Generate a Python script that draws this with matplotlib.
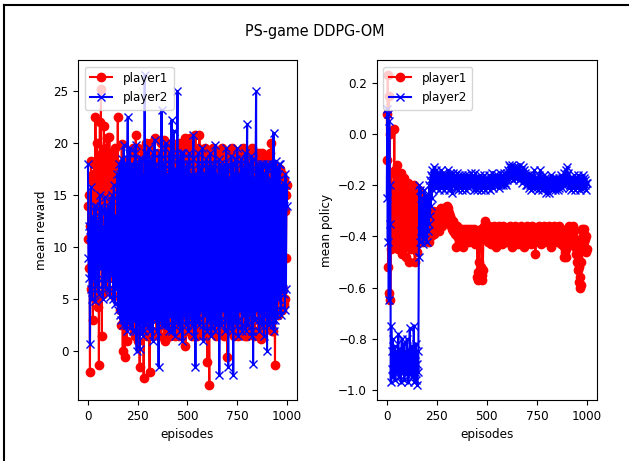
import numpy as np
import matplotlib
matplotlib.use('Agg')
import matplotlib.pyplot as plt
from matplotlib.lines import Line2D

# episodes sampled every 2.5 steps
episodes = np.arange(0, 1000.1, 2.5)

# mean reward, player1
reward_p1 = [
    10.8, 14.0, 8.0, 15.0, -2.0, 12.0, 18.3, 6.0, 16.5, 9.0, 3.0, 17.0, 11.0, 18.0, 7.5, 22.5, 13.0, 5.0, 20.0, 15.5,
    4.3, 18.5, -1.3, 16.0, 22.0, 9.5, 25.2, 14.0, 1.5, 19.0, 12.0, 5.5, 21.6, 16.5, 7.0, 19.5, 13.0, 6.0, 20.5, 11.0,
    6.0, 17.0, 14.5, 20.6, 9.0, 18.0, 8.5, 19.0, 12.0, 15.5, 18.7, 7.0, 5.3, 16.0, 14.0, 19.5, 9.0, 17.5, 6.5, 15.0,
    22.5, 10.0, 7.0, 18.0, 16.0, 4.0, 2.5, 14.0, 19.9, 8.0, 0.0, 15.0, 11.0, 3.0, -0.5, 17.0, 15.5, 6.0, 1.0, 12.0,
    16.5, 4.0, 5.0, 18.5, 12.0, 2.5, 3.0, 19.0, 18.2, 6.0, 9.0, 19.5, 2.0, 11.0, 17.5, 1.5, 20.8, 13.0, 6.0, 18.0,
    1.0, 19.5, 17.0, 5.0, -1.5, 12.0, 18.5, 3.5, 17.5, 14.0, 2.0, 8.0, -2.6, 19.0, 15.0, 3.0, 20.0, 10.0, 1.5, 17.5,
    4.0, 19.5, 16.0, 2.0, -2.0, 13.0, 20.0, 4.0, 18.8, 9.0, 1.5, 19.0, 5.0, 12.0, 20.5, 3.5, 17.8, 11.0, 2.0, 18.5,
    3.0, 19.0, 13.0, 1.5, 18.5, 9.0, 6.0, 20.0, 2.5, 12.0, 18.5, 4.0, 20.3, 10.0, 1.0, 19.0, 4.5, 13.0, 19.5, 2.0,
    17.2, 5.0, 1.5, 19.5, 1.5, 12.0, 18.0, 3.0, 20.0, 9.0, 2.0, 19.0, 3.5, 14.0, 18.5, 1.5, 16.0, 11.0, 2.5, 19.5,
    2.0, 17.5, 12.0, 1.5, 18.0, 10.0, 20.0, 16.0, 3.0, 13.0, 19.5, 5.0, 17.5, 9.0, 2.0, 20.5, 0.5, 12.0, 18.5, 4.5,
    20.0, 8.0, 2.0, 19.0, 4.0, 13.0, 20.5, 3.0, 18.0, 11.0, 1.5, 19.5, 2.5, 12.0, 18.0, 4.0, 20.8, 9.0, 2.0, 19.0,
    1.5, 17.0, 19.5, 5.0, 20.8, 10.0, 2.0, 18.5, 3.0, 12.0, 19.0, 4.0, 17.0, 9.0, 1.5, 19.5, 1.5, 13.0, 18.0, 5.0,
    -1.0, 19.0, 15.0, 2.0, -3.2, 12.0, 18.5, 5.0, 18.2, 10.0, 2.0, 19.5, 2.5, 13.0, 18.0, 3.5, 17.8, 9.0, 1.5, 19.0,
    4.0, 17.0, 19.0, 2.0, 16.5, 11.0, 18.5, 15.0, 1.8, 12.0, 19.5, 4.0, 18.0, 10.0, 1.5, 19.0, 3.0, 13.0, 18.5, 2.0,
    -0.5, 16.0, 19.0, 4.0, 17.5, 9.0, 2.0, 18.5, 2.0, 13.0, 19.5, 3.5, 18.5, 10.0, 1.5, 19.0, 3.5, 12.0, 18.0, 2.0,
    17.0, 9.0, 1.5, 19.0, 2.5, 13.0, 18.5, 4.0, 18.3, 11.0, 2.0, 19.5, 3.0, 12.0, 18.0, 1.5, 16.5, 10.0, 2.5, 19.0,
    1.5, 16.0, 19.0, 4.0, 18.0, 10.0, 2.0, 18.5, 3.5, 12.0, 19.5, 5.0, 17.5, 9.0, 1.5, 18.5, 2.0, 13.0, 19.0, 4.0,
    18.2, 10.0, 2.0, 19.0, 3.0, 12.0, 18.5, 5.0, 1.2, 13.0, 19.0, 4.0, 16.0, 9.0, 2.0, 18.5, 2.5, 12.0, 17.5, 5.0,
    17.5, 9.0, 2.5, 18.5, 3.0, 12.0, 19.0, 4.0, 20.0, 10.0, 2.0, 18.0, 2.0, 11.0, 17.5, 5.0, -1.3, 12.0, 9.0, 17.0,
    16.5, 8.0, 3.5, 17.0, 15.0, 5.0, 6.0, 17.5, 13.0, 8.0, 4.0, 17.0, 16.0, 6.0, 4.5, 16.5, 13.5, 5.0, 9.0, 15.0,
    16.0,
]

# mean reward, player2
reward_p2 = [
    18.0, 9.0, 7.0, 12.0, 0.7, 11.0, 15.8, 6.0, 5.0, 13.0, 12.5, 7.0, 10.0, 14.0, 4.8, 11.0, 14.0, 7.5, 6.5, 12.5,
    12.0, 6.0, 5.5, 13.0, 15.0, 8.0, 8.0, 14.0, 13.5, 7.0, 5.0, 12.0, 11.0, 6.5, 14.8, 9.0, 6.0, 13.5, 12.0, 7.0,
    7.5, 14.0, 13.0, 6.0, 5.2, 12.0, 14.5, 7.5, 8.0, 15.0, 11.0, 5.0, 16.0, 9.0, 4.5, 13.0, 13.0, 6.0, 6.0, 17.0,
    15.0, 4.0, 9.0, 18.0, 17.0, 3.5, 3.0, 16.0, 18.5, 5.0, 2.5, 17.0, 19.8, 3.0, 4.0, 18.0, 17.5, 2.5, 2.0, 16.0,
    22.5, 3.0, 3.0, 19.0, 19.5, 2.5, 5.5, 18.0, 18.0, 4.0, 2.0, 17.5, 16.5, 3.0, 4.0, 19.0, 19.8, 2.0, 0.0, 18.0,
    17.0, 2.5, 3.5, 18.5, 0.2, 16.0, 15.0, 3.0, 18.5, 4.0, 1.5, 17.0, 14.0, 2.0, 26.5, 5.0, 2.5, 19.0, 18.0, 3.0,
    4.5, 18.0, 19.5, 3.0, 2.0, 17.5, 16.0, 2.5, 18.5, 4.0, 1.0, 19.0, 15.0, 3.5, 20.3, 5.0, 3.0, 18.0, 17.0, 2.0,
    5.0, 17.5, -1.5, 16.0, 19.0, 3.0, 4.0, 18.5, 23.2, 2.5, 3.5, 17.0, 18.0, 4.0, 2.5, 19.5, 20.0, 3.0, 6.0, 17.0,
    16.0, 2.5, 2.0, 18.0, 19.0, 3.5, 4.0, 17.0, 22.2, 2.0, 3.0, 18.5, 21.2, 4.5, 1.5, 16.5, 17.5, 3.0, 5.0, 19.0,
    25.0, 3.5, 2.5, 17.0, 18.5, 2.0, 4.0, 19.0, 16.0, 3.0, 1.0, 18.0, 19.0, 4.0, 3.5, 17.5, 17.0, 2.5, 6.0, 18.0,
    15.5, 3.0, 2.0, 19.0, 18.0, 3.5, 4.5, 17.0, 16.5, 2.5, 3.0, 18.5, 20.8, 4.0, 1.5, 17.0, -1.5, 16.0, 17.0, 3.0,
    4.0, 18.0, 19.0, 3.0, 2.5, 17.5, 16.5, 4.0, 5.0, 18.0, 19.5, 2.5, 1.0, 17.0, 17.0, 3.5, 3.5, 18.0, 18.5, 2.0,
    2.0, 17.5, 16.0, 3.0, 4.5, 18.0, 19.0, 2.5, 1.5, 16.5, 17.5, 4.0, 3.0, 18.0, 15.5, 2.0, 19.8, 3.5, 2.5, 17.0,
    16.5, 3.0, 4.0, 18.5, -2.3, 16.0, 18.0, 2.5, 3.0, 17.5, 17.0, 4.0, 5.0, 18.0, 15.0, 3.0, 2.0, 17.0, 19.5, 3.5,
    3.5, 18.0, -1.5, 16.5, 16.5, 3.0, 2.5, 17.5, 18.8, 2.0, 4.0, 18.0, -2.3, 17.0, 17.0, 3.5, 3.0, 18.5, 15.5, 2.5,
    19.5, 3.0, 1.5, 17.0, 17.0, 4.0, 4.5, 18.0, 18.5, 2.5, 2.0, 17.5, 16.0, 3.5, 3.5, 18.0, 19.0, 2.0, 5.0, 17.0,
    21.8, 3.0, 2.5, 18.0, 17.5, 3.5, 4.0, 17.0, 18.8, 2.0, 1.5, 18.5, -1.2, 16.0, 16.5, 3.0, 3.0, 17.5, 25.0, 4.0,
    4.5, 18.0, 17.0, 3.0, 2.0, 17.5, 15.5, 4.0, 18.0, 2.5, 3.0, 18.0, 18.0, 3.5, 1.5, 17.0, 16.5, 4.0, 4.0, 18.0,
    0.0, 17.5, 18.0, 3.0, 2.5, 16.5, 16.5, 3.5, 4.0, 18.0, 17.5, 2.5, 3.0, 21.0, 2.0, 17.0, 15.5, 3.0, 18.3, 4.0,
    3.5, 17.5, 17.0, 5.0, 5.0, 18.0, 18.0, 4.0, 3.5, 16.0, 15.0, 6.0, 6.0, 16.2, 5.5, 14.0, 4.0, 17.0, 6.0, 16.0,
    14.0,
]

# mean policy, player1
policy_p1 = [
    0.08, -0.1, 0.23, -0.52, 0.15, -0.62, 0.0, -0.65, -0.45, -0.15, -0.35, -0.25, -0.4, -0.2, -0.3, 0.02, -0.42, -0.14, -0.33, -0.22,
    -0.4, -0.12, -0.3, -0.45, -0.18, -0.36, -0.25, -0.42, -0.15, -0.32, -0.47, -0.2, -0.38, -0.28, -0.44, -0.17, -0.35, -0.24, -0.48, -0.21,
    -0.3, -0.42, -0.19, -0.36, -0.5, -0.26, -0.4, -0.2, -0.33, -0.45, -0.23, -0.38, -0.3, -0.44, -0.2, -0.35, -0.5, -0.28, -0.4, -0.24,
    -0.36, -0.46, -0.26, -0.4, -0.33, -0.22, -0.42, -0.3, -0.38, -0.25, -0.4, -0.34, -0.28, -0.42, -0.32, -0.37, -0.27, -0.4, -0.33, -0.38,
    -0.3, -0.4, -0.34, -0.38, -0.31, -0.42, -0.35, -0.37, -0.32, -0.4, -0.34, -0.38, -0.3, -0.36, -0.33, -0.39, -0.31, -0.37, -0.34, -0.36,
    -0.32, -0.37, -0.3, -0.35, -0.33, -0.38, -0.31, -0.36, -0.29, -0.34, -0.31, -0.36, -0.3, -0.33, -0.29, -0.34, -0.31, -0.3, -0.33, -0.29,
    -0.28, -0.32, -0.3, -0.29, -0.33, -0.31, -0.34, -0.32, -0.36, -0.33, -0.35, -0.37, -0.34, -0.38, -0.36, -0.35, -0.39, -0.37, -0.44, -0.38,
    -0.36, -0.4, -0.37, -0.39, -0.38, -0.41, -0.37, -0.4, -0.38, -0.42, -0.39, -0.37, -0.4, -0.44, -0.38, -0.41, -0.39, -0.37, -0.4, -0.42,
    -0.38, -0.41, -0.37, -0.4, -0.39, -0.42, -0.38, -0.4, -0.37, -0.41, -0.39, -0.38, -0.42, -0.4, -0.37, -0.41, -0.39, -0.43, -0.38, -0.4,
    -0.39, -0.56, -0.54, -0.57, -0.5, -0.4, -0.38, -0.41, -0.37, -0.52, -0.55, -0.57, -0.53, -0.41, -0.38, -0.36, -0.4, -0.34, -0.38, -0.41,
    -0.39, -0.37, -0.42, -0.38, -0.4, -0.36, -0.41, -0.39, -0.43, -0.38, -0.4, -0.37, -0.42, -0.39, -0.36, -0.41, -0.38, -0.4, -0.44, -0.39,
    -0.37, -0.41, -0.38, -0.4, -0.36, -0.42, -0.39, -0.37, -0.41, -0.38, -0.4, -0.43, -0.39, -0.36, -0.41, -0.38, -0.4, -0.37, -0.42, -0.39,
    -0.38, -0.41, -0.37, -0.4, -0.42, -0.39, -0.36, -0.41, -0.38, -0.4, -0.44, -0.39, -0.37, -0.41, -0.38, -0.4, -0.36, -0.42, -0.39, -0.37,
    -0.41, -0.38, -0.4, -0.43, -0.39, -0.37, -0.41, -0.38, -0.4, -0.36, -0.42, -0.39, -0.37, -0.41, -0.38, -0.44, -0.4, -0.37, -0.41, -0.38,
    -0.4, -0.36, -0.42, -0.39, -0.37, -0.41, -0.38, -0.4, -0.43, -0.39, -0.36, -0.41, -0.38, -0.4, -0.37, -0.42, -0.39, -0.47, -0.41, -0.38,
    -0.4, -0.37, -0.41, -0.39, -0.36, -0.42, -0.38, -0.4, -0.37, -0.43, -0.39, -0.41, -0.38, -0.4, -0.36, -0.42, -0.39, -0.37, -0.41, -0.38,
    -0.4, -0.37, -0.42, -0.39, -0.36, -0.41, -0.38, -0.4, -0.44, -0.39, -0.37, -0.41, -0.38, -0.4, -0.36, -0.42, -0.39, -0.37, -0.41, -0.38,
    -0.4, -0.37, -0.42, -0.39, -0.36, -0.41, -0.38, -0.4, -0.37, -0.43, -0.39, -0.41, -0.38, -0.4, -0.48, -0.44, -0.46, -0.42, -0.48, -0.45,
    -0.41, -0.37, -0.43, -0.38, -0.4, -0.36, -0.42, -0.39, -0.41, -0.37, -0.43, -0.39, -0.4, -0.36, -0.42, -0.38, -0.41, -0.44, -0.42, -0.47,
    -0.45, -0.5, -0.48, -0.53, -0.52, -0.58, -0.6, -0.56, -0.59, -0.5, -0.42, -0.37, -0.4, -0.38, -0.42, -0.37, -0.41, -0.45, -0.4, -0.46,
    -0.45,
]

# mean policy, player2
policy_p2 = [
    -0.25, 0.1, -0.42, 0.08, -0.65, 0.05, -0.35, -0.2, -0.97, -0.75, -0.85, -0.92, -0.8, -0.95, -0.88, -0.9, -0.83, -0.96, -0.87, -0.92,
    -0.85, -0.93, -0.89, -0.78, -0.95, -0.87, -0.91, -0.84, -0.97, -0.88, -0.8, -0.93, -0.86, -0.9, -0.82, -0.96, -0.88, -0.92, -0.85, -0.94,
    -0.8, -0.93, -0.88, -0.97, -0.85, -0.9, -0.76, -0.94, -0.87, -0.92, -0.83, -0.95, -0.88, -0.91, -0.75, -0.97, -0.86, -0.93, -0.82, -0.96,
    -0.9, -0.98, -0.85, -0.93, -0.48, -0.2, -0.42, -0.22, -0.38, -0.25, -0.4, -0.3, -0.43, -0.27, -0.37, -0.22, -0.41, -0.3, -0.36, -0.24,
    -0.42, -0.28, -0.38, -0.24, -0.35, -0.2, -0.32, -0.18, -0.28, -0.16, -0.25, -0.14, -0.22, -0.17, -0.2, -0.13, -0.19, -0.16, -0.21, -0.14,
    -0.17, -0.2, -0.15, -0.19, -0.22, -0.16, -0.2, -0.18, -0.14, -0.21, -0.17, -0.19, -0.15, -0.2, -0.18, -0.22, -0.16, -0.19, -0.17, -0.21,
    -0.16, -0.19, -0.14, -0.2, -0.17, -0.22, -0.15, -0.18, -0.21, -0.16, -0.23, -0.17, -0.19, -0.15, -0.2, -0.18, -0.16, -0.21, -0.17, -0.19,
    -0.15, -0.2, -0.18, -0.22, -0.16, -0.19, -0.17, -0.21, -0.18, -0.2, -0.16, -0.22, -0.19, -0.17, -0.21, -0.18, -0.2, -0.16, -0.19, -0.22,
    -0.18, -0.2, -0.16, -0.19, -0.21, -0.17, -0.2, -0.18, -0.15, -0.19, -0.17, -0.2, -0.16, -0.18, -0.22, -0.19, -0.17, -0.15, -0.18, -0.21,
    -0.19, -0.22, -0.17, -0.2, -0.18, -0.21, -0.16, -0.19, -0.22, -0.18, -0.2, -0.17, -0.21, -0.19, -0.16, -0.2, -0.18, -0.22, -0.17, -0.19,
    -0.2, -0.17, -0.21, -0.18, -0.16, -0.2, -0.19, -0.22, -0.17, -0.2, -0.18, -0.15, -0.19, -0.21, -0.17, -0.2, -0.18, -0.16, -0.19, -0.17,
    -0.19, -0.16, -0.2, -0.18, -0.21, -0.17, -0.19, -0.15, -0.18, -0.2, -0.17, -0.19, -0.16, -0.2, -0.18, -0.15, -0.19, -0.17, -0.2, -0.16,
    -0.18, -0.15, -0.17, -0.14, -0.16, -0.12, -0.15, -0.13, -0.17, -0.14, -0.16, -0.12, -0.15, -0.18, -0.13, -0.16, -0.14, -0.17, -0.13, -0.15,
    -0.17, -0.14, -0.16, -0.13, -0.18, -0.15, -0.12, -0.16, -0.14, -0.17, -0.15, -0.19, -0.13, -0.16, -0.18, -0.14, -0.17, -0.15, -0.2, -0.16,
    -0.18, -0.2, -0.16, -0.19, -0.17, -0.21, -0.18, -0.2, -0.16, -0.22, -0.19, -0.17, -0.21, -0.18, -0.2, -0.14, -0.19, -0.17, -0.21, -0.18,
    -0.2, -0.17, -0.22, -0.19, -0.16, -0.2, -0.18, -0.14, -0.21, -0.17, -0.19, -0.22, -0.18, -0.2, -0.16, -0.19, -0.21, -0.17, -0.2, -0.23,
    -0.19, -0.21, -0.17, -0.2, -0.23, -0.18, -0.21, -0.19, -0.16, -0.2, -0.22, -0.18, -0.2, -0.17, -0.21, -0.19, -0.22, -0.18, -0.2, -0.17,
    -0.2, -0.18, -0.22, -0.19, -0.17, -0.21, -0.18, -0.2, -0.16, -0.19, -0.21, -0.17, -0.2, -0.18, -0.15, -0.19, -0.17, -0.2, -0.14, -0.18,
    -0.13, -0.16, -0.19, -0.15, -0.18, -0.21, -0.17, -0.2, -0.18, -0.22, -0.19, -0.17, -0.21, -0.18, -0.2, -0.16, -0.19, -0.22, -0.18, -0.2,
    -0.17, -0.21, -0.19, -0.16, -0.2, -0.18, -0.22, -0.19, -0.17, -0.21, -0.18, -0.2, -0.16, -0.19, -0.21, -0.17, -0.2, -0.18, -0.22, -0.19,
    -0.19,
]

# the original text looks horizontally squeezed, so use the condensed face
plt.rcParams['font.stretch'] = 'condensed'
plt.rcParams['font.size'] = 9.5

fig = plt.figure(figsize=(6.29, 4.61), dpi=100)
ax1 = fig.add_axes([0.124, 0.132, 0.348, 0.738])
ax2 = fig.add_axes([0.599, 0.132, 0.350, 0.738])

ax1.plot(episodes, reward_p1, 'ro-', label='player1')
ax1.plot(episodes, reward_p2, 'bx-', label='player2')
ax1.set_xlabel('episodes')
ax1.set_ylabel('mean reward')
ax1.set_xticks([0, 250, 500, 750, 1000])
ax1.legend(loc='upper left', handlelength=1.7)

ax2.plot(episodes, policy_p1, 'ro-', label='player1')
ax2.plot(episodes, policy_p2, 'bx-', label='player2')
ax2.set_xlabel('episodes')
ax2.set_ylabel('mean policy')
ax2.set_xticks([0, 250, 500, 750, 1000])
ax2.legend(loc='upper left', handlelength=1.7)

fig.suptitle('PS-game DDPG-OM', y=0.948, fontsize=11.5)

# screenshot frame (left and top edges)
fig.add_artist(Line2D([0.006, 0.006], [0, 0.99], transform=fig.transFigure, color='black', lw=1.5))
fig.add_artist(Line2D([0.006, 1.0], [0.99, 0.99], transform=fig.transFigure, color='black', lw=1.5))

fig.savefig('out.png', dpi=100)
